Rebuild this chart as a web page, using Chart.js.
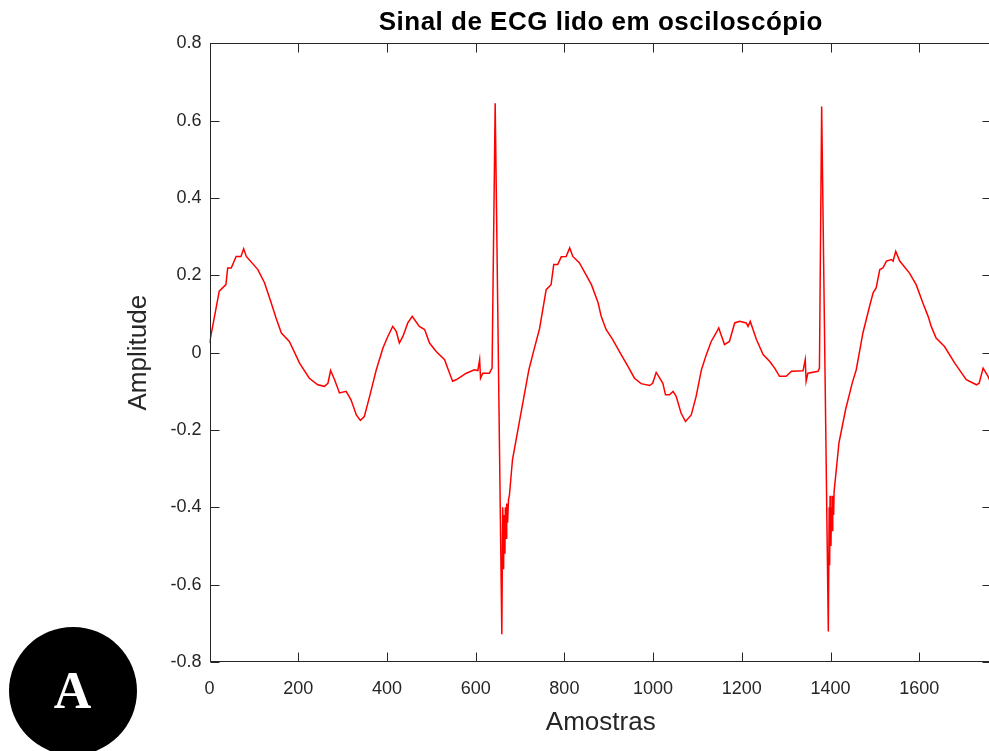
<!DOCTYPE html>
<html>
<head>
<meta charset="utf-8">
<title>Sinal de ECG</title>
<script src="https://cdn.jsdelivr.net/npm/chart.js@4.4.1/dist/chart.umd.min.js"></script>
<style>
    html, body { margin: 0; padding: 0; background: #fff; overflow: hidden; }
    #wrap { position: relative; width: 1000px; height: 751px; }
    #badge {
        position: absolute; left: 8.5px; top: 626.5px; width: 128px; height: 128px;
        border-radius: 50%; background: #000; color: #fff;
        display: flex; align-items: center; justify-content: center;
        font: bold 52px "Liberation Serif", "DejaVu Serif", serif; line-height: 128px;
    }
</style>
</head>
<body>
<div id="wrap">
    <canvas id="ecg" width="1000" height="751"></canvas>
    <div id="badge">A</div>
</div>
<script>
// pontos (amostra, amplitude)
const amostras = [
    0, 22, 37, 41, 49, 60, 71, 77, 83, 109, 124, 139, 150, 162, 180, 203, 225, 244, 259, 267,
    273, 282, 293, 308, 319, 331, 340, 349, 361, 376, 391, 402, 413, 421, 428, 436, 447, 457, 473, 485,
    496, 511, 530, 537, 548, 556, 579, 597, 605, 609, 611, 616, 631, 637, 644, 659, 661, 663, 664, 666,
    667, 669, 670, 672, 674, 676, 683, 698, 709, 720, 732, 744, 759, 770, 776, 785, 793, 804, 812, 819,
    834, 861, 876, 883, 894, 909, 928, 943, 958, 973, 992, 999, 1007, 1015, 1022, 1028, 1037, 1045, 1052, 1063,
    1073, 1086, 1097, 1109, 1120, 1131, 1142, 1148, 1153, 1161, 1172, 1184, 1195, 1210, 1214, 1219, 1233, 1248, 1263, 1274,
    1285, 1300, 1312, 1338, 1343, 1345, 1349, 1372, 1375, 1380, 1395, 1397, 1398, 1399, 1401, 1402, 1404, 1405, 1407, 1408,
    1419, 1434, 1449, 1458, 1473, 1488, 1496, 1503, 1511, 1518, 1526, 1537, 1541, 1547, 1556, 1578, 1593, 1608, 1620, 1627,
    1638, 1657, 1680, 1706, 1729, 1735, 1744, 1755, 1764
];
const amplitude = [
    0.025, 0.159, 0.176, 0.219, 0.219, 0.249, 0.249, 0.269, 0.249, 0.215, 0.181, 0.129, 0.090, 0.051, 0.029, -0.027, -0.066, -0.083, -0.087, -0.079,
    -0.046, -0.070, -0.104, -0.100, -0.122, -0.161, -0.175, -0.165, -0.113, -0.044, 0.012, 0.042, 0.068, 0.055, 0.025, 0.042, 0.077, 0.094, 0.068, 0.060,
    0.025, 0.003, -0.018, -0.040, -0.074, -0.070, -0.053, -0.044, -0.046, -0.018, -0.066, -0.053, -0.053, -0.040, 0.645, -0.728, -0.40, -0.56, -0.42, -0.52,
    -0.40, -0.48, -0.39, -0.44, -0.38, -0.37, -0.277, -0.182, -0.113, -0.044, 0.010, 0.062, 0.163, 0.176, 0.228, 0.228, 0.248, 0.249, 0.271, 0.249,
    0.232, 0.176, 0.129, 0.094, 0.060, 0.034, -0.005, -0.035, -0.066, -0.080, -0.085, -0.079, -0.051, -0.066, -0.079, -0.109, -0.109, -0.100, -0.113, -0.156,
    -0.178, -0.161, -0.113, -0.044, -0.005, 0.029, 0.051, 0.064, 0.047, 0.021, 0.029, 0.077, 0.081, 0.077, 0.068, 0.081, 0.034, -0.005, -0.023, -0.040,
    -0.061, -0.061, -0.048, -0.047, -0.018, -0.074, -0.053, -0.048, -0.040, 0.637, -0.721, -0.40, -0.55, -0.37, -0.50, -0.40, -0.46, -0.37, -0.42, -0.36,
    -0.233, -0.147, -0.078, -0.044, 0.051, 0.120, 0.155, 0.168, 0.215, 0.219, 0.237, 0.241, 0.237, 0.262, 0.237, 0.206, 0.176, 0.129, 0.094, 0.068,
    0.038, 0.016, -0.027, -0.070, -0.083, -0.079, -0.040, -0.061, -0.085
];
const xTicks = [0, 200, 400, 600, 800, 1000, 1200, 1400, 1600];
const yTicks = [-0.8, -0.6, -0.4, -0.2, 0, 0.2, 0.4, 0.6, 0.8];
const chartTitle = 'Sinal de ECG lido em osciloscópio';

const AXIS_COLOR = '#262626';
const FONT = '"Liberation Sans", Arial, Helvetica, sans-serif';
const TICK_LEN = 9;

// caixa estilo MATLAB com marcas para dentro nos quatro lados,
// e o título centrado sobre a área do gráfico (não sobre o canvas)
const boxPlugin = {
    id: 'matlabBox',
    afterDraw(chart) {
        const {ctx, chartArea: a, scales: {x, y}} = chart;
        const L = Math.round(a.left) + 0.5, R = Math.round(a.right) - 0.5;
        const T = Math.round(a.top) + 0.5, B = Math.round(a.bottom) - 0.5;
        ctx.save();
        ctx.strokeStyle = AXIS_COLOR;
        ctx.lineWidth = 1;
        ctx.strokeRect(L, T, R - L, B - T);
        ctx.beginPath();
        x.ticks.forEach(t => {
            const px = Math.round(x.getPixelForValue(t.value)) + 0.5;
            ctx.moveTo(px, B); ctx.lineTo(px, B - TICK_LEN);
            ctx.moveTo(px, T); ctx.lineTo(px, T + TICK_LEN);
        });
        y.ticks.forEach(t => {
            const py = Math.round(y.getPixelForValue(t.value)) + 0.5;
            ctx.moveTo(L, py); ctx.lineTo(L + TICK_LEN, py);
            ctx.moveTo(R, py); ctx.lineTo(R - TICK_LEN, py);
        });
        ctx.stroke();

        ctx.fillStyle = '#000';
        ctx.font = 'bold 26px ' + FONT;
        ctx.letterSpacing = '0.5px';
        ctx.textAlign = 'center';
        ctx.textBaseline = 'alphabetic';
        ctx.fillText(chartTitle, (a.left + a.right) / 2, 30);
        ctx.restore();
    }
};

new Chart(document.getElementById('ecg').getContext('2d'), {
    type: 'line',
    data: {
        datasets: [{
            data: amostras.map((s, i) => ({x: s, y: amplitude[i]})),
            borderColor: '#ff0000',
            borderWidth: 1.5,
            pointRadius: 0,
            tension: 0,
            fill: false
        }]
    },
    options: {
        responsive: false,
        animation: false,
        events: [],
        layout: {padding: {left: 0, right: 8, top: 43.4, bottom: 0}},
        plugins: {
            legend: {display: false},
            tooltip: {enabled: false},
            title: {display: false}
        },
        scales: {
            x: {
                type: 'linear',
                min: 0,
                max: 1764,
                afterBuildTicks: s => { s.ticks = xTicks.map(v => ({value: v})); },
                afterFit: s => { s.height = 89; },
                grid: {display: false, drawTicks: false},
                border: {display: false},
                ticks: {
                    color: AXIS_COLOR, font: {family: FONT, size: 18}, padding: 16,
                    maxRotation: 0, autoSkip: false, callback: v => String(v)
                },
                title: {
                    display: true, text: 'Amostras', color: AXIS_COLOR,
                    font: {family: FONT, size: 26}, padding: {top: 0, bottom: 13}
                }
            },
            y: {
                min: -0.8,
                max: 0.8,
                afterBuildTicks: s => { s.ticks = yTicks.map(v => ({value: v})); },
                afterFit: s => { s.width = 209.5; },
                grid: {display: false, drawTicks: false},
                border: {display: false},
                ticks: {
                    color: AXIS_COLOR, font: {family: FONT, size: 18}, padding: 8,
                    autoSkip: false, callback: v => String(v)
                },
                title: {
                    display: true, text: 'Amplitude', color: AXIS_COLOR,
                    font: {family: FONT, size: 26}, padding: {top: 123, bottom: 0}
                }
            }
        }
    },
    plugins: [boxPlugin]
});
</script>
</body>
</html>
